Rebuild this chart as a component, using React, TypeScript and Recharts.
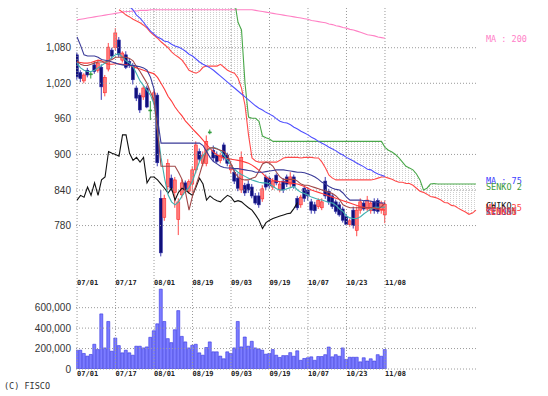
import { ComposedChart, Bar, Line, Area, XAxis, YAxis, ReferenceLine } from "recharts";

// ---- values ----
const dateLabels = ["07/01", "07/17", "08/01", "08/19", "09/03", "09/19", "10/07", "10/23", "11/08"];
const dateIdx = [0, 11, 22, 33, 44, 55, 66, 77, 88];
const priceTicks = [780, 840, 900, 960, 1020, 1080];
const volTicks = [0, 200000, 400000, 600000];

const opens = [
  1068, 1038, 1024, 1042, 1036, 1051, 1042, 1047, 1004, 1044,
  1076, 1080, 1093, 1059, 1068, 1057, 1050, 1012, 1000, 997,
  1012, 975, 992, 1000, 826, 794, 846, 860, 836, 790,
  832, 852, 838, 850, 874, 905, 885, 885, 938, 907,
  899, 890, 916, 899, 874, 870, 860, 840, 848, 850,
  845, 830, 830, 825, 862, 860, 845, 865, 840, 855,
  862, 850, 862, 826, 815, 843, 840, 820, 815, 812,
  810, 855, 838, 830, 820, 815, 808, 795, 782, 806,
  772, 806, 818, 808, 805, 820, 822, 806, 798,
];
const highs = [
  1072, 1042, 1037, 1046, 1040, 1056, 1058, 1052, 1034, 1088,
  1080, 1113, 1098, 1074, 1074, 1062, 1054, 1016, 1004, 1016,
  1016, 990, 1008, 1004, 840, 832, 892, 866, 862, 826,
  858, 856, 858, 880, 922, 910, 905, 932, 942, 915,
  905, 903, 920, 903, 886, 874, 868, 905, 852, 856,
  850, 835, 836, 848, 866, 864, 860, 868, 855, 860,
  866, 870, 866, 830, 832, 848, 845, 825, 820, 826,
  826, 862, 842, 834, 824, 820, 812, 800, 792, 812,
  812, 826, 822, 830, 822, 826, 826, 822, 822,
];
const lows = [
  1026, 1022, 1020, 1030, 1028, 1036, 1038, 992, 998, 1040,
  1060, 1076, 1064, 1055, 1044, 1046, 1018, 990, 970, 992,
  978, 958, 985, 880, 728, 788, 840, 838, 810, 764,
  826, 836, 834, 835, 868, 888, 880, 880, 934, 888,
  885, 885, 890, 880, 868, 850, 838, 835, 830, 835,
  826, 815, 810, 820, 840, 842, 840, 848, 836, 835,
  845, 845, 842, 806, 810, 820, 822, 800, 800, 808,
  806, 825, 815, 808, 800, 795, 785, 780, 778, 775,
  762, 800, 805, 804, 800, 800, 800, 800, 784,
];
const closes = [
  1031, 1028, 1034, 1034, 1036, 1040, 1054, 1014, 1030, 1081,
  1066, 1105, 1068, 1071, 1047, 1050, 1026, 995, 975, 1012,
  980, 975, 1004, 886, 734, 826, 885, 843, 857, 820,
  852, 840, 854, 874, 916, 892, 899, 922, 938, 894,
  888, 899, 894, 885, 882, 855, 843, 895, 835, 840,
  830, 818, 815, 842, 845, 847, 855, 852, 850, 840,
  850, 862, 846, 810, 828, 826, 830, 806, 805, 822,
  820, 830, 820, 812, 804, 798, 789, 782, 788, 780,
  806, 820, 808, 823, 818, 805, 804, 818, 816,
];
const volumes = [
  184000, 184000, 152000, 126000, 142000, 242000, 190000, 539000, 206000, 465000,
  174000, 303000, 229000, 158000, 184000, 158000, 135000, 223000, 223000, 206000,
  216000, 310000, 374000, 442000, 781000, 465000, 297000, 258000, 384000, 571000,
  319000, 265000, 206000, 232000, 242000, 158000, 135000, 210000, 265000, 168000,
  168000, 126000, 100000, 168000, 152000, 206000, 465000, 216000, 313000, 223000,
  271000, 206000, 197000, 184000, 145000, 152000, 190000, 135000, 113000, 131000,
  131000, 160000, 125000, 178000, 85000, 103000, 110000, 119000, 85000, 122000,
  122000, 140000, 215000, 119000, 140000, 125000, 206000, 94000, 115000, 115000,
  115000, 70000, 110000, 78000, 100000, 78000, 140000, 125000, 190000,
];

const ma200 = [
  1127, 1128, 1129, 1130, 1131, 1132, 1133, 1134, 1135, 1136,
  1137, 1138, 1139, 1140, 1141, 1141, 1142, 1142, 1143, 1143,
  1143, 1144, 1144, 1144, 1144, 1144, 1144, 1144, 1144, 1144,
  1144, 1144, 1144, 1144, 1144, 1144, 1144, 1144, 1144, 1144,
  1144, 1144, 1144, 1144, 1144, 1144, 1144, 1144, 1144, 1144,
  1144, 1143, 1142, 1141, 1140, 1139, 1138, 1137, 1136, 1135,
  1134, 1133, 1132, 1131, 1130, 1129, 1128, 1126, 1125, 1124,
  1123, 1122, 1120, 1119, 1117, 1116, 1114, 1113, 1111, 1110,
  1108, 1106, 1104, 1102, 1101, 1100, 1098, 1097, 1096,
];
const ma75Start = 15;
const ma75 = [
  1149, 1144, 1135, 1130, 1123, 1115, 1108, 1103, 1098, 1095,
  1091, 1090, 1086, 1083, 1081, 1078, 1074, 1069, 1066, 1061,
  1056, 1052, 1049, 1046, 1042, 1037, 1032, 1027, 1022, 1017,
  1012, 1007, 1002, 997, 992, 987, 982, 978, 975, 971,
  968, 965, 960, 956, 954, 953, 950, 946, 943, 939,
  936, 933, 929, 926, 922, 919, 916, 912, 909, 906,
  902, 899, 895, 892, 889, 885, 882, 879, 875, 874,
  870, 867, 865, 863,
];
const ma25 = [
  1056, 1055, 1054, 1054, 1055, 1057, 1059, 1058, 1054, 1052,
  1052, 1053, 1053, 1052, 1051, 1050, 1048, 1046, 1044, 1042,
  1040, 1038, 1036, 1030, 1020, 1010, 998, 990, 980, 972,
  965, 956, 950, 943, 937, 931, 924, 917, 910, 904,
  899, 896, 894, 893, 892, 891, 890, 889, 887, 885,
  882, 878, 873, 868, 862, 858, 856, 855, 854, 854,
  853, 852, 851, 850, 848, 846, 843, 840, 838, 836,
  834, 832, 830, 828, 826, 824, 822, 820, 818, 816,
  814, 812, 811, 810, 810, 809, 808, 807, 806,
];
const fastLine = [
  1054, 1046, 1042, 1040, 1040, 1042, 1046, 1050, 1054, 1058,
  1064, 1068, 1070, 1064, 1058, 1054, 1048, 1036, 1024, 1016,
  1008, 1000, 985, 940, 895, 860, 832, 820, 815, 820,
  830, 838, 844, 855, 872, 888, 898, 905, 910, 912,
  910, 906, 898, 890, 882, 875, 870, 866, 863, 860,
  857, 855, 853, 852, 852, 850, 846, 842, 840, 840,
  842, 844, 846, 840, 836, 834, 831, 828, 826, 824,
  823, 821, 819, 818, 814, 808, 804, 796, 793, 792,
  792, 795, 800, 804, 808, 811, 811, 811, 811,
];
const tenkan = [
  1058, 1052, 1050, 1050, 1052, 1054, 1056, 1056, 1056, 1058,
  1060, 1064, 1064, 1064, 1064, 1062, 1058, 1048, 1040, 1030,
  1020, 1005, 992, 940, 880, 880, 880, 880, 880, 870,
  858, 836, 806, 830, 848, 866, 886, 907, 911, 911,
  909, 907, 905, 899, 884, 870, 862, 858, 857, 857,
  860, 862, 872, 884, 887, 885, 880, 870, 862, 858,
  858, 858, 858, 855, 850, 848, 848, 846, 844, 842,
  840, 838, 836, 834, 830, 824, 815, 812, 810, 810,
  810, 810, 810, 810, 810, 810, 808, 812, 818,
];
const kijun = [
  1098, 1084, 1068, 1066, 1066, 1066, 1064, 1060, 1059, 1058,
  1056, 1054, 1052, 1051, 1050, 1050, 1050, 1049, 1048, 1046,
  1042, 1030, 1010, 960, 919, 919, 919, 919, 919, 919,
  919, 919, 919, 919, 919, 919, 915, 905, 895, 888,
  884, 880, 878, 877, 877, 876, 876, 875, 874, 873,
  872, 870, 870, 870, 871, 872, 873, 874, 874, 874,
  873, 872, 871, 870, 870, 869, 867, 865, 862, 858,
  853, 850, 846, 843, 841, 840, 835, 828, 823, 823,
  823, 823, 822, 822, 821, 820, 819, 818, 818,
];
const chiko = [
  823, 831, 828, 845, 831, 852, 831, 857, 862, 905,
  902, 900, 897, 933, 933, 902, 890, 895, 887, 895,
  852, 862, 862, 857, 850, 843, 835, 843, 823, 836,
  843, 840, 835, 831, 845, 860, 850, 823, 830, 825,
  822, 820, 826, 831, 828, 820, 822, 820, 815, 810,
  806, 798, 789, 775, 785, 789, 792, 794, 796, 798,
  800, 801, 809, 819,
];
const senkoStart = 12;
const senko1 = [
  1144, 1140, 1135, 1132, 1128, 1125, 1122, 1118, 1113, 1106,
  1101, 1096, 1090, 1085, 1080, 1073, 1068, 1064, 1059, 1051,
  1042, 1039, 1037, 1040, 1047, 1049, 1049, 1049, 1049, 1052,
  1047, 1042, 1039, 1037, 1029, 1012, 983, 933, 894, 889,
  887, 887, 887, 887, 887, 887, 890, 894, 895, 895,
  895, 895, 894, 895, 895, 895, 894, 894, 887, 877,
  865, 860, 857, 857, 857, 857, 857, 857, 857, 857,
  857, 857, 857, 858, 860, 862, 862, 860, 858, 855,
  853, 853, 851, 851, 848, 843, 838, 836, 833, 829,
  828, 826, 823, 819, 818, 814, 813, 809, 806, 803,
  799, 801, 806,
];
// senko 2 sits above the top edge of the chart until mid-August
const senko2 = [
  1160, 1160, 1160, 1160, 1160, 1160, 1160, 1160, 1160, 1160,
  1160, 1160, 1160, 1160, 1160, 1160, 1160, 1160, 1160, 1160,
  1160, 1160, 1160, 1160, 1160, 1160, 1160, 1160, 1160, 1160,
  1160, 1160, 1160, 1160, 1123, 1110, 1020, 963, 961, 961,
  956, 931, 928, 926, 922, 922, 922, 922, 922, 922,
  922, 922, 922, 922, 922, 922, 922, 922, 922, 922,
  922, 922, 922, 922, 922, 922, 922, 922, 922, 922,
  922, 922, 922, 922, 922, 922, 912, 907, 904, 900,
  894, 887, 880, 877, 874, 867, 857, 840, 843, 850,
  851, 850, 850, 850, 850, 850, 850, 850, 850, 850,
  850, 850, 850,
];

const X_DOMAIN: [number, number] = [-0.3, 114.3];
const TOTAL = senkoStart + senko1.length;

const rows = Array.from({ length: TOTAL }, (_, i) => {
  const has = i < closes.length;
  const s1 = i >= senkoStart ? senko1[i - senkoStart] : null;
  const s2 = i >= senkoStart ? senko2[i - senkoStart] : null;
  return {
    i,
    open: has ? opens[i] : null,
    close: has ? closes[i] : null,
    high: has ? highs[i] : null,
    low: has ? lows[i] : null,
    hl: has ? [lows[i], highs[i]] : null,
    vol: has ? volumes[i] : null,
    ma200: has ? ma200[i] : null,
    ma75: i >= ma75Start && i - ma75Start < ma75.length ? ma75[i - ma75Start] : null,
    ma25: has ? ma25[i] : null,
    fast: has ? fastLine[i] : null,
    tenkan: has ? tenkan[i] : null,
    kijun: has ? kijun[i] : null,
    chiko: i < chiko.length ? chiko[i] : null,
    s1,
    s2,
    cloud: s1 != null && s2 != null ? [s1, s2] : null,
  };
});

const mono = "'DejaVu Sans Mono', monospace";
const sans = "'Liberation Sans', Arial, sans-serif";
const GRID = "#9a9a9a";

function Candle(props: any) {
  const { x, y, width, height, payload } = props;
  if (!payload || payload.open == null || x == null) return null;
  const { open, close, high, low } = payload;
  const cx = x + width / 2;
  const span = high - low || 1;
  const py = (v: number) => y + ((high - v) / span) * height;
  const up = close > open;
  const flat = close === open;
  const color = flat ? "#2f9a3a" : up ? "#ff2a2a" : "#10107a";
  const top = py(Math.max(open, close));
  const bot = py(Math.min(open, close));
  return (
    <g>
      <line x1={cx} x2={cx} y1={y} y2={y + height} stroke={flat ? color : up ? "#ff4a4a" : "#3a3ab0"} strokeWidth={1} />
      <rect
        x={cx - 1.5}
        y={top}
        width={3}
        height={Math.max(bot - top, 1)}
        fill={up ? "#ff7a7a" : color}
        stroke={up ? "#ff2a2a" : flat ? color : "#2a2aa0"}
        strokeWidth={0.6}
      />
    </g>
  );
}

function ValueTick(props: any) {
  const { y, payload } = props;
  return (
    <text x={71} y={y + 3.5} textAnchor="end" fontFamily={sans} fontSize={10} fill="#333">
      {Number(payload.value).toLocaleString("en-US")}
    </text>
  );
}

function DateTick(props: any) {
  const { x, payload, baseY } = props;
  const k = dateIdx.indexOf(payload.value);
  return (
    <text x={x} y={baseY} textAnchor="start" fontFamily={mono} fontSize={7} fontWeight="bold" fill="#222">
      {k >= 0 ? dateLabels[k] : ""}
    </text>
  );
}

const lineProps = { type: "linear" as const, dot: false, activeDot: false, strokeWidth: 1.1, isAnimationActive: false };

export default function App() {
  return (
    <div style={{ position: "absolute", left: 0, top: 0, width: 548, height: 396, background: "#fff", overflow: "hidden" }}>
      <div style={{ position: "absolute", left: 0, top: 0 }}>
        <ComposedChart width={548} height={300} data={rows} margin={{ top: 8, right: 71, bottom: 0, left: 0 }}>
          <defs>
            <pattern id="hatch" width="3" height="2" patternUnits="userSpaceOnUse">
              <rect x="0" y="0" width="1" height="1" fill="#cfcfcf" />
            </pattern>
          </defs>
          <XAxis
            dataKey="i"
            type="number"
            domain={X_DOMAIN}
            ticks={dateIdx}
            interval={0}
            height={27}
            axisLine={false}
            tickLine={false}
            allowDataOverflow
            tick={<DateTick baseY={285} />}
          />
          <YAxis
            type="number"
            domain={[700, 1147]}
            ticks={priceTicks}
            interval={0}
            width={76}
            axisLine={false}
            tickLine={false}
            allowDataOverflow
            tick={<ValueTick />}
          />
          {priceTicks.map((v) => (
            <ReferenceLine key={"h" + v} y={v} stroke={GRID} strokeDasharray="1 2" />
          ))}
          {dateIdx.map((v) => (
            <ReferenceLine key={"v" + v} x={v} stroke={GRID} strokeDasharray="1 2" />
          ))}
          <Line dataKey="ma200" stroke="#ff80c4" {...lineProps} />
          <Area dataKey="cloud" type="linear" stroke="none" fill="url(#hatch)" fillOpacity={1} isAnimationActive={false} activeDot={false} />
          <Line dataKey="s2" stroke="#4aa84a" {...lineProps} />
          <Line dataKey="s1" stroke="#ff4a4a" {...lineProps} />
          <Line dataKey="ma75" stroke="#5050ff" {...lineProps} />
          <Line dataKey="chiko" stroke="#111" {...lineProps} />
          <Bar dataKey="hl" barSize={3} shape={<Candle />} isAnimationActive={false} />
          <Line dataKey="ma25" stroke="#ff3a3a" {...lineProps} />
          <Line dataKey="fast" stroke="#40b0b0" {...lineProps} />
          <Line dataKey="tenkan" stroke="#a04848" {...lineProps} />
          <Line dataKey="kijun" stroke="#3a3a98" {...lineProps} />
        </ComposedChart>
      </div>

      <div style={{ position: "absolute", left: 0, top: 273 }}>
        <ComposedChart width={548} height={123} data={rows} margin={{ top: 0, right: 71, bottom: 0, left: 0 }}>
          <XAxis
            dataKey="i"
            type="number"
            domain={X_DOMAIN}
            ticks={dateIdx}
            interval={0}
            height={27}
            axisLine={false}
            tickLine={false}
            allowDataOverflow
            tick={<DateTick baseY={103} />}
          />
          <YAxis
            type="number"
            domain={[0, 939000]}
            ticks={volTicks}
            interval={0}
            width={76}
            axisLine={false}
            tickLine={false}
            allowDataOverflow
            tick={<ValueTick />}
          />
          {volTicks.map((v) => (
            <ReferenceLine key={"vh" + v} y={v} stroke={GRID} strokeDasharray="1 2" />
          ))}
          {dateIdx.map((v) => (
            <ReferenceLine key={"vv" + v} x={v} stroke={GRID} strokeDasharray="1 2" />
          ))}
          <Bar dataKey="vol" barSize={3} fill="#7c7cff" stroke="#3434e0" strokeWidth={0.6} isAnimationActive={false} />
        </ComposedChart>
      </div>

      <svg width={548} height={396} style={{ position: "absolute", left: 0, top: 0, pointerEvents: "none" }}>
        <g fontFamily={mono} fontSize={8.5}>
          <text x={486} y={42} fill="#ff80c8">MA : 200</text>
          <text x={486} y={184} fill="#4040ff">MA : 75</text>
          <text x={486} y={190} fill="#3c9a3c">SENKO 2</text>
          <text x={486} y={211} fill="#ff4040">MA : 25</text>
          <text x={486} y={209} fill="#111">CHIKO</text>
          <text x={486} y={214} fill="#a04848">TENKAN</text>
          <text x={486} y={215} fill="#3a3a98">KIJUN</text>
          <text x={486} y={215} fill="#ff4040">SENKO1</text>
          <text x={4} y={389} fill="#333">(C) FISCO</text>
        </g>
      </svg>
    </div>
  );
}
